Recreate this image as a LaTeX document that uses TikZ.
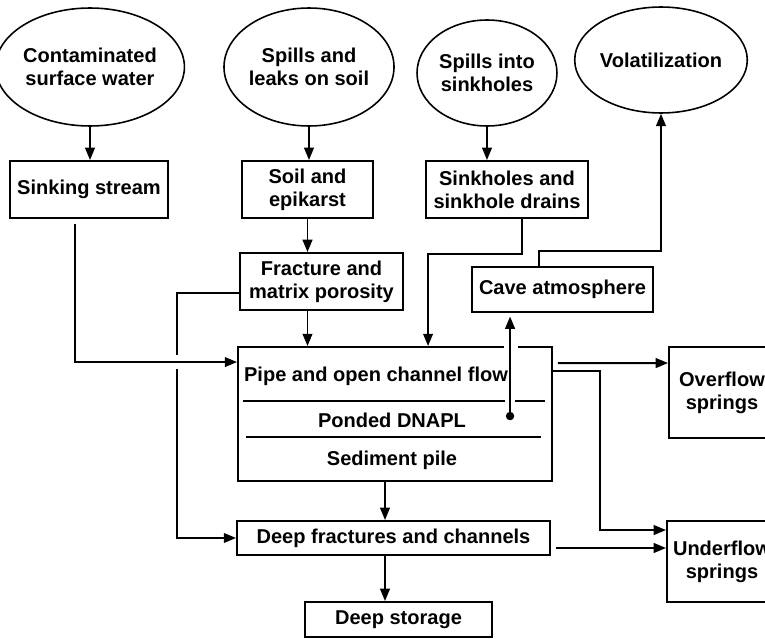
\documentclass[tikz,border=0pt]{standalone}
\usepackage{fontspec}
\setmainfont{Liberation Sans}
\usetikzlibrary{calc,arrows.meta,shapes.geometric}

\begin{document}
\begin{tikzpicture}[x=0.02cm,y=-0.02cm,>={Triangle[length=7pt,width=5.5pt]},
  every node/.style={font=\fontsize{11.4}{13}\selectfont\bfseries,align=center,inner sep=0pt},
  box/.style={draw,line width=1.1pt},
  blob/.style={draw,ellipse,line width=0.9pt},
  flow/.style={->,line width=1.1pt},
  divider/.style={line width=1.1pt}]
  \useasboundingbox (0,0) rectangle (765,639);
  \clip (0,0) rectangle (765,639);
  % sources
  \node[blob,minimum width=3.08cm,minimum height=2.36cm] (surface) at (90,67) {Contaminated\\surface water};
  \node[blob,minimum width=3.04cm,minimum height=2.36cm] (spills) at (309,67) {Spills and\\leaks on soil};
  \node[blob,minimum width=2.8cm,minimum height=2.12cm] (intosink) at (487,73) {Spills into\\sinkholes};
  \node[blob,minimum width=2.84cm,minimum height=2.12cm] (volat) at (661,60) {Volatilization};
  % recharge boxes
  \node[box,minimum width=3.16cm,minimum height=1.14cm] (stream) at (89,189.5) {Sinking stream};
  \node[box,minimum width=2.62cm,minimum height=1.14cm] (epikarst) at (307.5,189.5) {Soil and\\epikarst};
  \node[box,minimum width=3.24cm,minimum height=1.14cm] (drains) at (507,189.5) {Sinkholes and\\sinkhole drains};
  \node[box,minimum width=3.26cm,minimum height=1.14cm] (matrix) at (321.5,281.5) {Fracture and\\matrix porosity};
  \node[box,minimum width=3.62cm,minimum height=0.9cm] (cave) at (562.5,289.5) {Cave atmosphere};
  % conduit
  \node[box,minimum width=6.28cm,minimum height=2.68cm] (pipe) at (395,414) {};
  \node (openflow) at (376,376) {Pipe and open channel flow};
  \node (ponded) at (392,420) {Ponded DNAPL};
  \node (sediment) at (392,460) {Sediment pile};
  \draw[divider] ($(pipe.north west)+(6,55)$) -- ($(pipe.north east)+(-8,55)$);
  \draw[divider] ($(pipe.north west)+(9,91)$) -- ($(pipe.north east)+(-12,91)$);
  % outlets
  \node[box,minimum width=2.12cm,minimum height=1.82cm] (overflow) at (722,392.5) {Overflow\\springs};
  \node[box,minimum width=2.2cm,minimum height=1.62cm] (underflow) at (722,561.5) {Underflow\\springs};
  \node[box,minimum width=6.26cm,minimum height=0.68cm] (deep) at (393.5,538) {Deep fractures and channels};
  \node[box,minimum width=3.74cm,minimum height=0.7cm] (storage) at (398.5,619.5) {Deep storage};

  \draw[flow] (surface.south) -- (surface.south |- stream.north);
  \draw[flow] (spills.south) -- (spills.south |- epikarst.north);
  \draw[flow] (intosink.south) -- (intosink.south |- drains.north);
  \draw[flow] (epikarst.south) -- (epikarst.south |- matrix.north);
  \draw[flow] (matrix.south -| epikarst.south) -- (pipe.north -| epikarst.south);
  \draw[flow] ($(drains.south)+(15,0)$) -- ++(0,35) -| ($(pipe.north west)+(191,0)$);
  \draw[flow] ($(cave.north)+(-23.5,0)$) -- ++(0,-15) -| (volat.south);
  \draw[flow] ($(matrix.west)+(0,11.5)$) -- ($(matrix.west)+(-62,11.5)$) |- (deep.west);
  \fill[white] ($(pipe.north west)+(-65,9)$) rectangle ($(pipe.north west)+(-55,23)$);
  \draw[flow] ($(stream.south)+(-14,5)$) |- ($(pipe.north west)+(0,16)$);
  % pooled DNAPL vents to the cave air
  \coordinate (pool) at ($(pipe.north west)+(273,70)$);
  \fill[white] ($(pool)+(-6,-74)$) rectangle ($(pool)+(8,-66)$);
  \fill[white] ($(pool)+(-5,-19)$) rectangle ($(pool)+(5,-11)$);
  \fill (pool) circle (2.4pt);
  \draw[flow,shorten >=2pt] (pool) -- (pool |- cave.south);
  \draw[flow] ($(pipe.north east)+(5,17)$) -- ($(overflow.north west)+(0,17)$);
  \draw[flow] ($(pipe.north east)+(0,25)$) -- ++(47,0) |- ($(underflow.north west)+(0,10)$);
  \draw[flow] ($(pipe.south)+(-10,0)$) -- ($(deep.north)+(-8.5,0)$);
  \draw[flow] ($(deep.east)+(5,10)$) -- ($(underflow.west)+(0,-13.5)$);
  \draw[flow] ($(deep.south)+(-8.5,0)$) -- ($(storage.north)+(-13.5,0)$);
\end{tikzpicture}
\end{document}
